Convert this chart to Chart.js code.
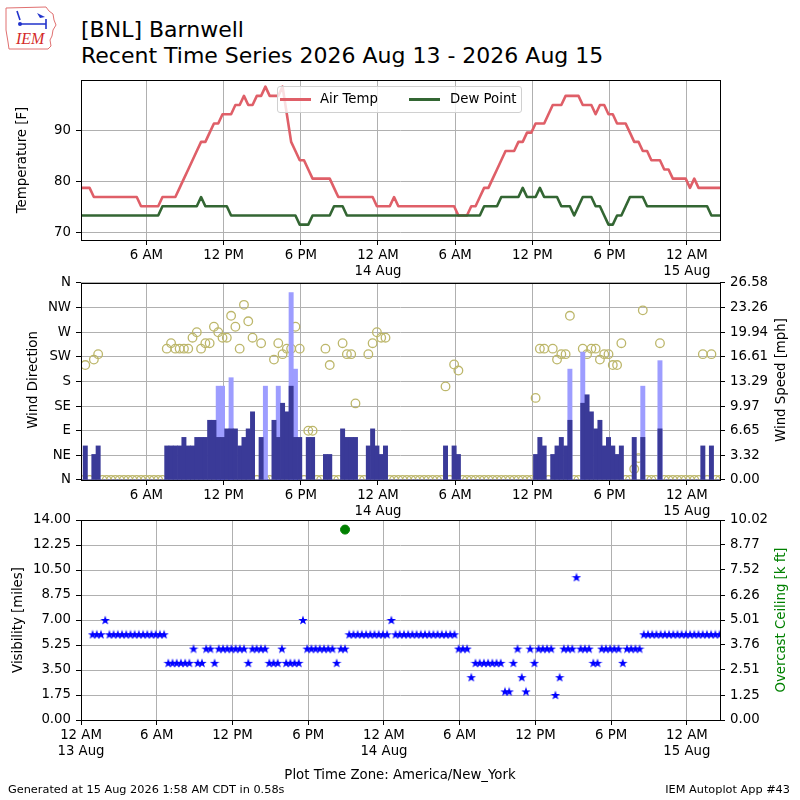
<!DOCTYPE html>
<html>
<head>
<meta charset="utf-8">
<script src="https://cdn.jsdelivr.net/npm/chart.js@4.4.1/dist/chart.umd.min.js"></script>
<style>
  body { margin: 0; background: #fff; }
  #wrap { position: relative; width: 800px; height: 800px; overflow: hidden;
          font-family: "DejaVu Sans", sans-serif; color: #000; }
  canvas { position: absolute; left: 0; }
  .txt { position: absolute; white-space: nowrap; line-height: 1; }
  .vlab { position: absolute; white-space: nowrap; line-height: 1; font-size: 13.3px;
          transform: translate(-50%, -50%) rotate(-90deg); }
</style>
</head>
<body>
<div id="wrap">
  <svg style="position:absolute;left:0;top:0" width="60" height="55" viewBox="0 0 60 55">
    <path d="M6,8 L46,7 L49,11 L53,14 L54,20 L56,25 L53,30 L52,36 L50,40 L51,46 L48,49 L9,49 L8,42 L6,30 Z"
          fill="none" stroke="#e07070" stroke-width="1"/>
    <g stroke="#2233cc" stroke-width="1.6" fill="none">
      <path d="M17,11 L20,20"/>
      <path d="M21,24 L46,24 M46,19 L46,29"/>
    </g>
    <circle cx="20" cy="24" r="2" fill="#2233cc"/>
    <path d="M37,13 L45,17 L40,18 Z" fill="#2233cc"/>
    <text x="16" y="44" font-family="Liberation Serif" font-style="italic" font-size="16" fill="#d42a2a">IEM</text>
  </svg>
  <div class="txt" style="left:81px;top:18.7px;font-size:22px">[BNL] Barnwell</div>
  <div class="txt" style="left:81px;top:45.4px;font-size:22px">Recent Time Series 2026 Aug 13 - 2026 Aug 15</div>

  <canvas id="c1" width="800" height="230" style="top:60px"></canvas>
  <canvas id="c2" width="800" height="250" style="top:270px"></canvas>
  <canvas id="c3" width="800" height="265" style="top:505px"></canvas>

  <div style="position:absolute;left:277px;top:86px;width:243px;height:25px;border:1px solid #d0d0d0;border-radius:3px;background:rgba(255,255,255,0.8)">
    <span style="position:absolute;left:2px;top:11px;width:31px;height:2.6px;background:#df5f68"></span>
    <span class="txt" style="left:42px;top:5px;font-size:13.3px">Air Temp</span>
    <span style="position:absolute;left:131px;top:11px;width:31px;height:2.6px;background:#336633"></span>
    <span class="txt" style="left:172px;top:5px;font-size:13.3px">Dew Point</span>
  </div>

  <div class="vlab" style="left:22px;top:160px">Temperature [F]</div>
  <div class="vlab" style="left:32.5px;top:380px">Wind Direction</div>
  <div class="vlab" style="left:781px;top:380px">Wind Speed [mph]</div>
  <div class="vlab" style="left:18px;top:620px">Visibility [miles]</div>
  <div class="vlab" style="left:781px;top:620px;color:#008000">Overcast Ceiling [k ft]</div>

  <div class="txt" style="left:400px;top:767.7px;font-size:13.3px;transform:translateX(-50%)">Plot Time Zone: America/New_York</div>
  <div class="txt" style="left:8px;top:783.5px;font-size:11.3px">Generated at 15 Aug 2026 1:58 AM CDT in 0.58s</div>
  <div class="txt" style="right:10px;top:783.5px;font-size:11.3px">IEM Autoplot App #43</div>
</div>

<script>
const _ = null;

// observation times (America/New_York), "day hh:mm" in Aug 2026
const obsTimes = [
  '13 00:55',
  '13 01:15','13 01:35','13 01:55','13 02:15','13 02:35','13 02:55','13 03:15','13 03:35','13 03:55',
  '13 04:15','13 04:35','13 04:55','13 05:15','13 05:35','13 05:55','13 06:15','13 06:35','13 06:55',
  '13 07:15','13 07:35','13 07:55','13 08:15','13 08:35','13 08:55','13 09:15','13 09:35','13 09:55',
  '13 10:15','13 10:35','13 10:55','13 11:15','13 11:35','13 11:55','13 12:15','13 12:35','13 12:55',
  '13 13:15','13 13:35','13 13:55','13 14:15','13 14:35','13 14:55','13 15:15','13 15:35','13 15:55',
  '13 16:15','13 16:35','13 16:55','13 17:15','13 17:35','13 17:55','13 18:15','13 18:35','13 18:55',
  '13 19:15','13 19:35','13 19:55','13 20:15','13 20:35','13 20:55','13 21:15','13 21:35','13 21:55',
  '13 22:15','13 22:35','13 22:55','13 23:15','13 23:35','13 23:55',
  '14 00:15','14 00:35','14 00:55','14 01:15','14 01:35','14 01:55','14 02:15','14 02:35','14 02:55',
  '14 03:15','14 03:35','14 03:55','14 04:15','14 04:35','14 04:55','14 05:15','14 05:35','14 05:55',
  '14 06:15','14 06:35','14 06:55','14 07:15','14 07:35','14 07:55','14 08:15','14 08:35','14 08:55',
  '14 09:15','14 09:35','14 09:55','14 10:15','14 10:35','14 10:55','14 11:15','14 11:35','14 11:55',
  '14 12:15','14 12:35','14 12:55','14 13:15','14 13:35','14 13:55','14 14:15','14 14:35','14 14:55',
  '14 15:15','14 15:35','14 15:55','14 16:15','14 16:35','14 16:55','14 17:15','14 17:35','14 17:55',
  '14 18:15','14 18:35','14 18:55','14 19:15','14 19:35','14 19:55','14 20:15','14 20:35','14 20:55',
  '14 21:15','14 21:35','14 21:55','14 22:15','14 22:35','14 22:55','14 23:15','14 23:35','14 23:55',
  '15 00:15','15 00:35','15 00:55','15 01:15','15 01:35','15 01:55','15 02:15','15 02:35'
];

const tempF = [
  78.8,78.8,78.8,77,77,77,77,77,77,77,
  77,77,77,77,75.2,75.2,75.2,75.2,75.2,77,
  77,77,77,78.8,80.6,82.4,84.2,86,87.8,87.8,
  89.6,91.4,91.4,93.2,93.2,93.2,95,95,96.8,95,
  95,96.8,96.8,98.6,96.8,96.8,96.8,98.6,93.2,87.8,
  86,84.2,84.2,82.4,80.6,80.6,80.6,80.6,80.6,78.8,
  77,77,77,77,77,77,77,77,77,75.2,
  75.2,75.2,75.2,77,75.2,75.2,75.2,75.2,75.2,75.2,
  75.2,75.2,75.2,75.2,75.2,75.2,75.2,75.2,73.4,73.4,
  73.4,75.2,75.2,77,78.8,78.8,80.6,82.4,84.2,86,
  86,86,87.8,87.8,89.6,89.6,91.4,91.4,91.4,93.2,
  95,95,95,96.8,96.8,96.8,96.8,95,95,95,
  93.2,95,95,93.2,93.2,91.4,91.4,91.4,89.6,87.8,
  87.8,86,86,84.2,84.2,84.2,82.4,82.4,80.6,80.6,
  80.6,80.6,78.8,80.6,78.8,78.8,78.8,78.8,78.8,78.8
];

const dewF = [
  73.4,73.4,73.4,73.4,73.4,73.4,73.4,73.4,73.4,73.4,
  73.4,73.4,73.4,73.4,73.4,73.4,73.4,73.4,73.4,75.2,
  75.2,75.2,75.2,75.2,75.2,75.2,75.2,75.2,77,75.2,
  75.2,75.2,75.2,75.2,75.2,73.4,73.4,73.4,73.4,73.4,
  73.4,73.4,73.4,73.4,73.4,73.4,73.4,73.4,73.4,73.4,
  73.4,71.6,71.6,71.6,73.4,73.4,73.4,73.4,73.4,75.2,
  75.2,75.2,73.4,73.4,73.4,73.4,73.4,73.4,73.4,73.4,
  73.4,73.4,73.4,73.4,73.4,73.4,73.4,73.4,73.4,73.4,
  73.4,73.4,73.4,73.4,73.4,73.4,73.4,73.4,73.4,73.4,
  73.4,73.4,73.4,73.4,75.2,75.2,75.2,75.2,77,77,
  77,77,77,78.8,77,77,77,78.8,77,77,
  77,77,75.2,75.2,75.2,73.4,75.2,77,77,77,
  75.2,75.2,73.4,71.6,71.6,73.4,73.4,75.2,77,77,
  77,77,75.2,75.2,75.2,75.2,75.2,75.2,75.2,75.2,
  75.2,75.2,75.2,75.2,75.2,75.2,75.2,73.4,73.4,73.4
];

const windDir = [
  0,210,0,220,230,0,0,0,0,0,
  0,0,0,0,0,0,0,0,0,0,
  240,250,240,240,240,240,260,270,240,250,
  250,280,270,260,260,300,280,240,320,290,
  260,0,250,0,0,220,250,230,240,240,
  280,240,0,90,90,0,0,240,210,0,
  0,250,230,230,140,0,0,230,250,270,
  260,260,0,0,0,0,0,0,0,0,
  0,0,0,0,0,171,0,211,200,0,
  0,0,0,0,0,0,0,0,0,0,
  0,0,0,0,0,0,150,240,240,0,
  240,220,230,230,300,0,0,240,230,240,
  240,220,230,230,210,210,250,0,0,20,
  40,310,0,0,0,250,0,0,0,0,
  0,0,0,0,0,230,0,230,0,0
];

const windMph = [
  0,4.6,0,3.45,4.6,0,0,0,0,0,
  0,0,0,0,0,0,0,0,0,0,
  4.6,4.6,4.6,4.6,5.75,4.6,4.6,5.75,5.75,5.75,
  8.06,8.06,5.75,5.75,6.9,6.9,6.9,4.6,5.75,6.9,
  9.2,0,5.75,0,0,8.06,5.75,10.36,9.2,12.66,
  5.75,5.75,0,5.75,5.75,0,0,3.45,3.45,0,
  0,6.9,5.75,5.75,5.75,0,0,4.6,6.9,4.6,
  3.45,4.6,0,0,0,0,0,0,0,0,
  0,0,0,0,0,4.6,0,4.6,3.45,0,
  0,0,0,0,0,0,0,0,0,0,
  0,0,0,0,0,0,3.45,5.75,4.6,0,
  3.45,4.6,5.75,4.6,8.06,0,0,10.36,11.5,9.2,
  6.9,8.06,4.6,5.75,4.6,3.45,4.6,0,0,5.75,
  0,5.75,0,0,0,6.9,0,0,0,0,
  0,0,0,0,0,4.6,0,4.6,0,0
];

const gustMph = [
  _,_,_,_,_,_,_,_,_,_,
  _,_,_,_,_,_,_,_,_,_,
  _,_,_,_,_,_,_,_,_,_,
  _,_,12.66,12.66,_,13.8,_,_,_,_,
  _,_,_,12.66,_,_,12.66,_,_,25.3,
  14.96,_,_,_,_,_,_,_,_,_,
  _,_,_,_,_,_,_,_,_,_,
  _,_,_,_,_,_,_,_,_,_,
  _,_,_,_,_,_,_,_,_,_,
  _,_,_,_,_,_,_,_,_,_,
  _,_,_,_,_,_,_,_,_,_,
  _,_,_,_,14.96,_,_,17.26,_,_,
  _,_,_,_,_,_,_,_,_,_,
  _,12.66,_,_,_,16.1,_,_,_,_,
  _,_,_,_,_,_,_,_,_,_
];

const visMiles = [
  6,6,6,7,6,6,6,6,6,6,
  6,6,6,6,6,6,6,6,4,4,
  4,4,4,4,5,4,4,5,5,4,
  5,5,5,5,5,5,5,4,5,5,
  5,5,4,4,4,5,4,4,4,4,
  7,5,5,5,5,5,5,5,4,5,
  5,6,6,6,6,6,6,6,6,6,
  6,7,6,6,6,6,6,6,6,6,
  6,6,6,6,6,6,6,5,5,5,
  3,4,4,4,4,4,4,4,2,2,
  4,5,3,2,5,4,5,5,5,5,
  1.75,3,5,5,5,10,5,5,5,4,
  4,5,5,5,5,5,4,5,5,5,
  5,6,6,6,6,6,6,6,6,6,
  6,6,6,6,6,6,6,6,6,6
];

const ceilTimes = ['13 20:55'];
const ceilKft = [9.54];

const xTickHours = [0, 6, 12, 18, 24, 30, 36, 42, 48];
const xTickLabels = [['12 AM', '13 Aug'], '6 AM', '12 PM', '6 PM', ['12 AM', '14 Aug'],
                     '6 AM', '12 PM', '6 PM', ['12 AM', '15 Aug']];
const tempTicks = [70, 80, 90];
const dirTicks = [0, 45, 90, 135, 180, 225, 270, 315, 360];
const dirLabels = ['N', 'NE', 'E', 'SE', 'S', 'SW', 'W', 'NW', 'N'];
const speedTickLabels = ['0.00','3.32','6.65','9.97','13.29','16.61','19.94','23.26','26.58'];
const visTickLabels = ['0.00','1.75','3.50','5.25','7.00','8.75','10.50','12.25','14.00'];
const ceilTickLabels = ['0.00','1.25','2.51','3.76','5.01','6.26','7.52','8.77','10.02'];

const TEMP_COLOR = '#df5f68';
const DEW_COLOR = '#336633';

Chart.defaults.font.family = 'DejaVu Sans';
Chart.defaults.color = '#000';

function toHours(s) {
  const [d, hm] = s.split(' ');
  const [hh, mm] = hm.split(':');
  return (d - 13) * 24 + Number(hh) + mm / 60;
}
const obsHours = obsTimes.map(toHours);
const xy = vals => vals.map((v, k) => ({ x: obsHours[k], y: v }));

const tickFont = { family: 'DejaVu Sans', size: 13.3, lineHeight: 1.2 };

// black box round the plot area, like matplotlib spines
const framePlugin = {
  id: 'frame',
  afterDraw(chart) {
    const { ctx, chartArea: a } = chart;
    ctx.save();
    ctx.strokeStyle = '#000';
    ctx.lineWidth = 1;
    ctx.strokeRect(Math.round(a.left) + 0.5, Math.round(a.top) + 0.5,
                   Math.round(a.right - a.left), Math.round(a.bottom - a.top));
    ctx.restore();
  }
};

function timeAxis(min, max, height) {
  return {
    type: 'linear', min, max, offset: false,
    afterBuildTicks: s => { s.ticks = xTickHours.filter(h => h >= min && h <= max).map(h => ({ value: h })); },
    afterFit: s => { s.height = height; },
    ticks: { autoSkip: false, maxRotation: 0, padding: 3, font: tickFont,
             callback: v => xTickLabels[xTickHours.indexOf(v)] },
    grid: { color: '#b0b0b0', tickColor: '#000', tickLength: 5, offset: false },
    border: { display: false }
  };
}

function leftAxis(min, max, tickVals, labelFn) {
  return {
    type: 'linear', position: 'left', min, max,
    afterBuildTicks: s => { s.ticks = tickVals.map(v => ({ value: v })); },
    afterFit: s => { s.width = 81; },
    ticks: { padding: 5, font: tickFont, callback: labelFn },
    grid: { color: '#b0b0b0', tickColor: '#000', tickLength: 5 },
    border: { display: false }
  };
}

function rightAxis(min, max, labels) {
  const vals = labels.map(Number);
  return {
    type: 'linear', position: 'right', min, max,
    afterBuildTicks: s => { s.ticks = vals.map(v => ({ value: v })); },
    afterFit: s => { s.width = 80; },
    ticks: { padding: 5, font: tickFont, callback: v => labels[vals.indexOf(v)] },
    grid: { drawOnChartArea: false, tickColor: '#000', tickLength: 5 },
    border: { display: false }
  };
}

const common = {
  responsive: false,
  animation: false,
  events: [],
  plugins: { legend: { display: false }, tooltip: { enabled: false } }
};

// top: temperature and dew point
new Chart(document.getElementById('c1'), {
  type: 'line',
  data: {
    datasets: [
      { label: 'Dew Point', data: xy(dewF), borderColor: DEW_COLOR, borderWidth: 2.6,
        pointRadius: 0, tension: 0, borderJoinStyle: 'round' },
      { label: 'Air Temp', data: xy(tempF), borderColor: TEMP_COLOR, borderWidth: 2.6,
        pointRadius: 0, tension: 0, borderJoinStyle: 'round' }
    ]
  },
  options: {
    ...common,
    layout: { padding: { top: 20, right: 80, left: 0, bottom: 0 } },
    scales: {
      x: timeAxis(obsHours[0], obsHours[obsHours.length - 1], 50),
      y: leftAxis(68.6, 99.9, tempTicks, v => String(v))
    }
  },
  plugins: [framePlugin]
});

// middle: wind direction circles (under), wind speed and gust bars (over)
new Chart(document.getElementById('c2'), {
  type: 'bar',
  data: {
    datasets: [
      { type: 'scatter', data: xy(windDir), yAxisID: 'y', pointRadius: 4.3,
        pointBorderColor: '#bdb76b', pointBackgroundColor: 'rgba(0,0,0,0)',
        pointBorderWidth: 1.3, clip: 0, order: 3 },
      { type: 'bar', data: xy(windMph), yAxisID: 'y2', backgroundColor: '#3a3a98',
        barThickness: 4.3, grouped: false, order: 1 },
      { type: 'bar', data: xy(gustMph), yAxisID: 'y2', backgroundColor: '#9d9dff',
        barThickness: 4.3, grouped: false, order: 2 }
    ]
  },
  options: {
    ...common,
    layout: { padding: { top: 10, right: 0, left: 0, bottom: 0 } },
    scales: {
      x: timeAxis(obsHours[0], obsHours[obsHours.length - 1], 40),
      y: leftAxis(0, 360, dirTicks, v => dirLabels[dirTicks.indexOf(v)]),
      y2: rightAxis(0, 26.58, speedTickLabels)
    }
  },
  plugins: [framePlugin]
});

// bottom: visibility stars and overcast ceiling
function starImage(size, color) {
  const c = document.createElement('canvas');
  c.width = c.height = size;
  const g = c.getContext('2d');
  const r = size / 2, ri = r * 0.4;
  g.beginPath();
  for (let k = 0; k < 10; k++) {
    const rad = k % 2 ? ri : r;
    const a = -Math.PI / 2 + k * Math.PI / 5;
    g.lineTo(r + rad * Math.cos(a), r + rad * Math.sin(a) + r * 0.1);
  }
  g.closePath();
  g.fillStyle = color;
  g.fill();
  return c;
}
const star = starImage(10, '#0000ff');

new Chart(document.getElementById('c3'), {
  type: 'scatter',
  data: {
    datasets: [
      { data: xy(visMiles), yAxisID: 'y', pointStyle: star, pointRadius: 5 },
      { data: ceilKft.map((v, k) => ({ x: toHours(ceilTimes[k]), y: v })), yAxisID: 'y2',
        pointRadius: 4.5, pointBackgroundColor: '#008000', pointBorderColor: '#008000' }
    ]
  },
  options: {
    ...common,
    layout: { padding: { top: 15, right: 0, left: 0, bottom: 0 } },
    scales: {
      x: timeAxis(0, 50.62, 50),
      y: leftAxis(0, 14, visTickLabels.map(Number), v => visTickLabels[visTickLabels.map(Number).indexOf(v)]),
      y2: rightAxis(0, 10.02, ceilTickLabels)
    }
  },
  plugins: [framePlugin]
});
</script>
</body>
</html>
